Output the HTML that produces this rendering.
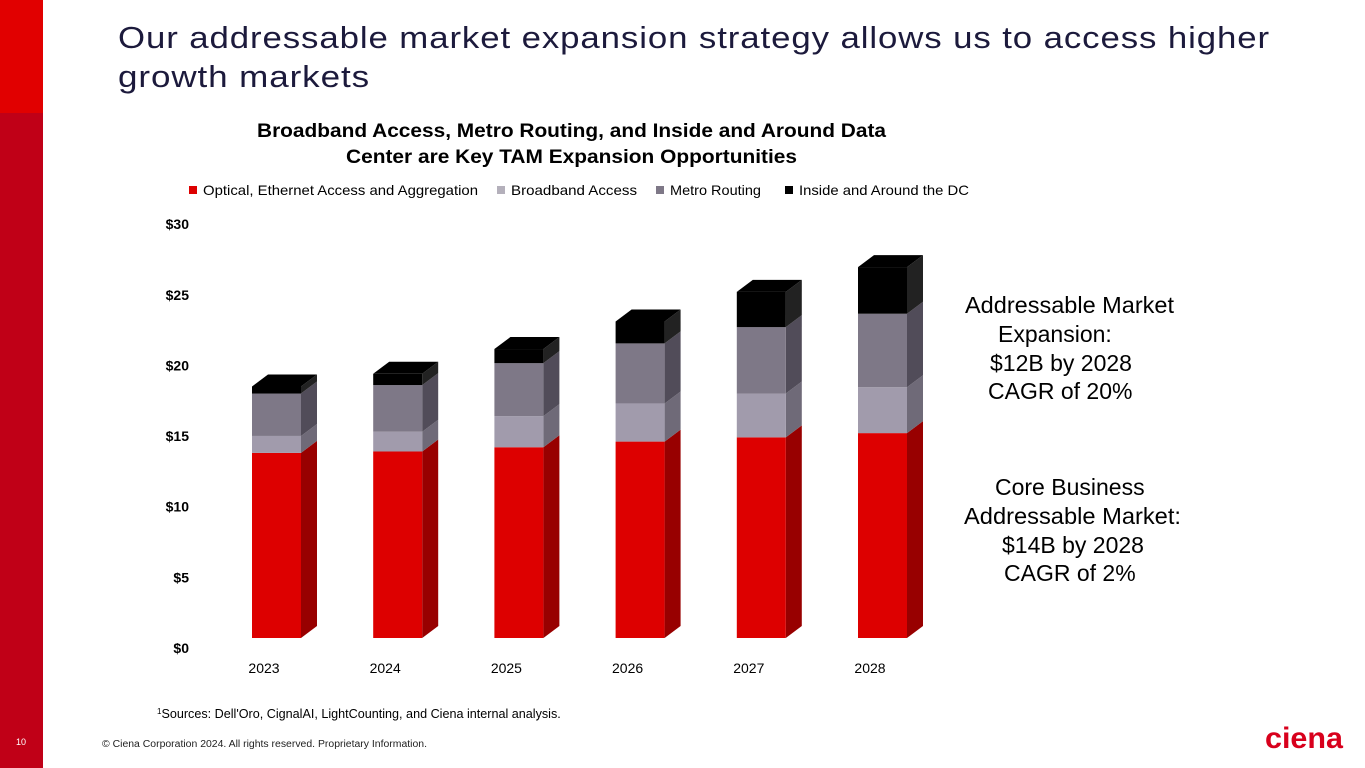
<!DOCTYPE html>
<html><head><meta charset="utf-8"><style>
html,body{margin:0;padding:0;background:#fff;}
body{width:1365px;height:768px;overflow:hidden;position:relative;font-family:"Liberation Sans",sans-serif;}
svg{position:absolute;left:0;top:0;}
</style></head><body>
<svg width="1365" height="768" viewBox="0 0 1365 768">
<rect x="0" y="0" width="43" height="113" fill="#e10000"/>
<rect x="0" y="113" width="43" height="655" fill="#c00017"/>
<text x="21" y="745" font-size="9" fill="#fff" text-anchor="middle" font-family="Liberation Sans, sans-serif">10</text>
<g font-family="Liberation Sans, sans-serif" font-size="31" fill="#1c1a3c">
<text x="118" y="48" textLength="1152" lengthAdjust="spacingAndGlyphs" letter-spacing="0.8">Our addressable market expansion strategy allows us to access higher</text>
<text x="118" y="87" textLength="252" lengthAdjust="spacingAndGlyphs" letter-spacing="0.8">growth markets</text>
</g>
<g font-family="Liberation Sans, sans-serif" font-size="19" font-weight="bold" fill="#000">
<text x="257" y="137" textLength="629" lengthAdjust="spacingAndGlyphs">Broadband Access, Metro Routing, and Inside and Around Data</text>
<text x="346" y="163" textLength="451" lengthAdjust="spacingAndGlyphs">Center are Key TAM Expansion Opportunities</text>
</g>
<g id="legend" font-family="Liberation Sans, sans-serif" font-size="14" fill="#000"></g>
<g id="axis" font-family="Liberation Sans, sans-serif" font-size="14" font-weight="bold" fill="#000"></g>
<g id="bars"></g>
<g id="xaxis" font-family="Liberation Sans, sans-serif" font-size="14" fill="#000" text-anchor="middle"></g>
<g font-family="Liberation Sans, sans-serif" font-size="23" fill="#000">
<text x="965" y="313" textLength="209" lengthAdjust="spacingAndGlyphs">Addressable Market</text>
<text x="998" y="342">Expansion:</text>
<text x="990" y="371">$12B by 2028</text>
<text x="988" y="399">CAGR of 20%</text>
</g>
<g font-family="Liberation Sans, sans-serif" font-size="23" fill="#000">
<text x="995" y="495">Core Business</text>
<text x="964" y="524" textLength="217" lengthAdjust="spacingAndGlyphs">Addressable Market:</text>
<text x="1002" y="553">$14B by 2028</text>
<text x="1004" y="581">CAGR of 2%</text>
</g>
<text x="157" y="718" font-family="Liberation Sans, sans-serif" font-size="12.6" fill="#000"><tspan font-size="8" dy="-4">1</tspan><tspan dy="4">Sources: Dell'Oro, CignalAI, LightCounting, and Ciena internal analysis.</tspan></text>
<text x="102" y="747" font-family="Liberation Sans, sans-serif" font-size="10" fill="#222" textLength="325" lengthAdjust="spacingAndGlyphs">© Ciena Corporation 2024. All rights reserved. Proprietary Information.</text>
<text x="1265" y="748" font-family="Liberation Sans, sans-serif" font-size="30" font-weight="bold" fill="#d8001c" textLength="78" lengthAdjust="spacingAndGlyphs">ciena</text>
</svg>
<script>
const categories=["2023","2024","2025","2026","2027","2028"];
const seriesNames=["Optical, Ethernet Access and Aggregation","Broadband Access","Metro Routing","Inside and Around the DC"];
const optical=[13.1,13.2,13.5,13.9,14.2,14.5];
const broadband=[1.2,1.4,2.2,2.7,3.1,3.25];
const metro=[3.0,3.3,3.75,4.25,4.7,5.2];
const insideDC=[0.5,0.8,1.0,1.55,2.5,3.3];
const yTicks=[0,5,10,15,20,25,30];
const yTickLabels=["$0","$5","$10","$15","$20","$25","$30"];

const NS="http://www.w3.org/2000/svg";
const front=["#dd0000","#a19bac","#7e7887","#000000"];
const side=["#980000","#6f6a78","#514c59","#222"];
const legendFill=["#dd0000","#b4b0bb","#7e7887","#000"];
const legendLen=[275,126,91,170];
const scale=14.13, base=638, dx=16, dy=12, barW=49;
function yF(v){return base-v*scale;}
function yAxis(v){return 648-v*scale;}
function xF(i){return 252+i*121.2;}
function mk(tag,attrs,parent){const e=document.createElementNS(NS,tag);for(const k in attrs)e.setAttribute(k,attrs[k]);parent.appendChild(e);return e;}

const axis=document.getElementById('axis');
yTicks.forEach((t,i)=>{
  const el=mk('text',{x:189,y:yAxis(t)+5,'text-anchor':'end'},axis);
  el.textContent=yTickLabels[i];
  
  
});

const legend=document.getElementById('legend');
const lx=[189,497,656,785];
seriesNames.forEach((n,i)=>{
  const r=mk('rect',{x:lx[i],y:186,width:8,height:8,fill:legendFill[i]},legend);
  
  
  const t=mk('text',{x:lx[i]+14,y:195,textLength:legendLen[i],lengthAdjust:'spacingAndGlyphs'},legend);
  t.textContent=n;
  
  
});

const bars=document.getElementById('bars');
const series=[optical,broadband,metro,insideDC];
const xaxis=document.getElementById('xaxis');
categories.forEach((c,i)=>{
  const x=xF(i);
  let cum=0;
  const g=mk('g',{},bars);
  
  
  series.forEach((s,k)=>{
    const y0=yF(cum), y1=yF(cum+s[i]);
    cum+=s[i];
    const sd=mk('polygon',{points:`${x+barW},${y0} ${x+barW+dx},${y0-dy} ${x+barW+dx},${y1-dy} ${x+barW},${y1}`,fill:side[k]},g);
    
    
    const r=mk('rect',{x:x,y:y1,width:barW,height:Math.max(0,y0-y1),fill:front[k]},g);
    
    
  });
  const yt=yF(cum);
  const top=mk('polygon',{points:`${x},${yt} ${x+dx},${yt-dy} ${x+barW+dx},${yt-dy} ${x+barW},${yt}`,fill:'#000'},g);
  
  
  const lbl=mk('text',{x:x+12,y:673},xaxis);
  lbl.textContent=c;
  
  
});
</script>
</body></html>
